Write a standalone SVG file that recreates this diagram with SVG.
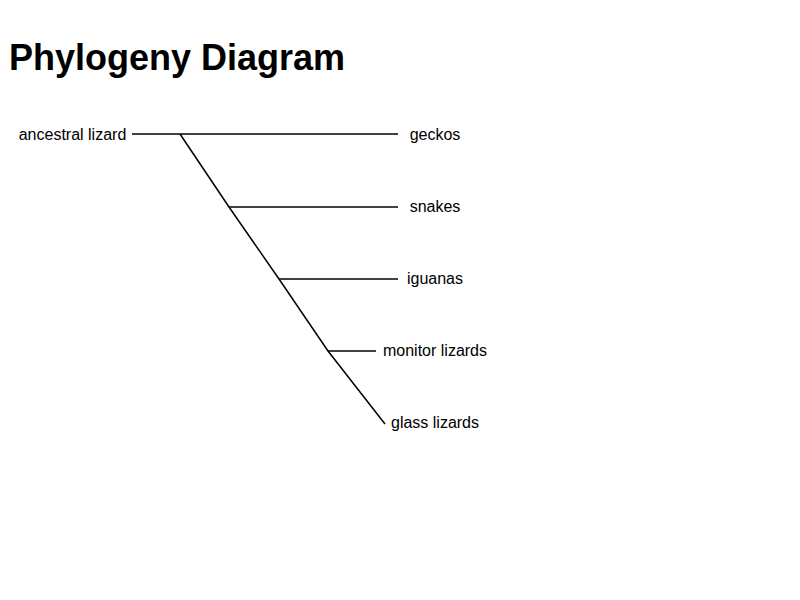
<svg xmlns="http://www.w3.org/2000/svg" width="800" height="600" viewBox="0 0 800 600">
<style>
text{font-family:"Liberation Sans",Arial,sans-serif;fill:#000}
.title{font-size:36px;font-weight:bold}
.lbl{font-size:16px;text-anchor:middle}
.edge{stroke:#000;stroke-width:1.5;fill:none}
</style>
<rect width="800" height="600" fill="#fff"/>
<text class="title" x="9" y="70">Phylogeny Diagram</text>
<g id="connectors">
<line class="edge" x1="132" y1="134" x2="398" y2="134"/>
<path class="edge" d="M180,134 L229,207 L279,279 L328,351 L385,424"/>
<line class="edge" x1="229" y1="207" x2="398" y2="207"/>
<line class="edge" x1="279" y1="279" x2="398" y2="279"/>
<line class="edge" x1="328" y1="351" x2="376" y2="351"/>
</g>
<g id="ancestral-lizard"><text class="lbl" x="72.5" y="140">ancestral lizard</text></g>
<g id="geckos"><text class="lbl" x="435" y="140">geckos</text></g>
<g id="snakes"><text class="lbl" x="435" y="212">snakes</text></g>
<g id="iguanas"><text class="lbl" x="435" y="284">iguanas</text></g>
<g id="monitor-lizards"><text class="lbl" x="435" y="356">monitor lizards</text></g>
<g id="glass-lizards"><text class="lbl" x="435" y="428">glass lizards</text></g>
</svg>
